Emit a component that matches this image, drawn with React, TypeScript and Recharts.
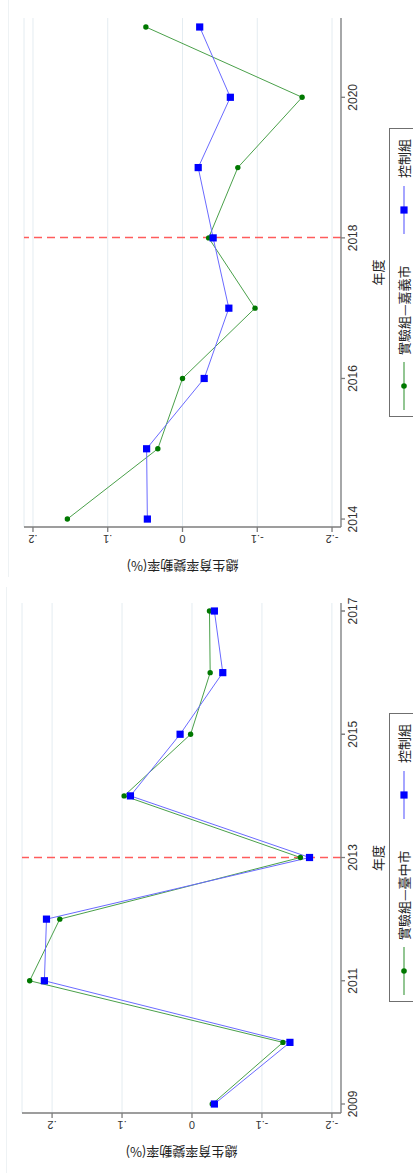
import React from "react";
import { CartesianGrid, Legend, Line, LineChart, ReferenceLine, XAxis, YAxis } from "recharts";

// 兩張 Stata 風格的折線圖（左：臺中市，右：嘉義市），整體逆時針轉 90 度
const taichungYears = [2009, 2010, 2011, 2012, 2013, 2014, 2015, 2016, 2017];
const taichungTreat = [-0.029, -0.13, 0.232, 0.189, -0.155, 0.097, 0.002, -0.026, -0.025];
const taichungControl = [-0.032, -0.14, 0.211, 0.208, -0.168, 0.088, 0.017, -0.044, -0.032];
const taichungXTicks = [2009, 2011, 2013, 2015, 2017];

const chiayiYears = [2014, 2015, 2016, 2017, 2018, 2019, 2020, 2021];
const chiayiTreat = [0.154, 0.033, 0.0, -0.097, -0.035, -0.074, -0.16, 0.049];
const chiayiControl = [0.047, 0.048, -0.029, -0.062, -0.041, -0.021, -0.064, -0.023];
const chiayiXTicks = [2014, 2016, 2018, 2020];

const yTicks = [-0.2, -0.1, 0, 0.1, 0.2];
const yTickLabels = ["-.2", "-.1", "0", ".1", ".2"];

const LATIN = "'Liberation Sans', Arial, sans-serif";
const CJK = "'Noto Sans CJK TC', 'Noto Sans CJK SC', sans-serif";
const GREEN_LINE = "#4aa04a";
const GREEN_DOT = "#007800";
const BLUE_LINE = "#6a6aff";
const BLUE_DOT = "#0000ff";
const POLICY_RED = "#ff5c5c";

interface PanelProps {
  years: number[];
  treat: number[];
  control: number[];
  treatName: string;
  xTicks: number[];
  xDomain: [number, number];
  yDomain: [number, number];
  policyYear: number;
  width: number;
  top: number;
  right: number;
  yAxisWidth: number;
  legendLeft: number;
}

const YTick = (p: any) => {
  const i = yTicks.indexOf(p.payload.value);
  return (
    <text
      transform={`translate(${p.x},${p.y}) rotate(-90)`}
      textAnchor="middle"
      fontSize={11}
      fill="#333"
      fontFamily={LATIN}
    >
      {i >= 0 ? yTickLabels[i] : p.payload.value}
    </text>
  );
};

const Dot = (p: any) =>
  p.cx == null ? <g key={p.index} /> : <circle key={p.index} cx={p.cx} cy={p.cy} r={2.7} fill={GREEN_DOT} />;

const Square = (p: any) =>
  p.cx == null ? (
    <g key={p.index} />
  ) : (
    <rect key={p.index} x={p.cx - 3.6} y={p.cy - 3.6} width={7.2} height={7.2} fill={BLUE_DOT} />
  );

// 政策年虛線：對齊像素，避免反鋸齒變灰
const PolicyLine = (p: any) => {
  const x = Math.round(p.x1) + 0.5;
  return (
    <line
      x1={x}
      y1={p.y1}
      x2={x}
      y2={p.y2}
      stroke={POLICY_RED}
      strokeWidth={1.5}
      strokeDasharray="8 5"
      fill="none"
    />
  );
};

function LegendBox({ treatName }: { treatName: string }) {
  const txt: React.CSSProperties = {
    position: "absolute",
    top: 6,
    fontSize: 13,
    lineHeight: "16px",
    fontFamily: CJK,
    color: "#222",
    whiteSpace: "nowrap",
  };
  return (
    <div style={{ position: "relative", width: 289, height: 28, border: "1px solid #6f6f6f", boxSizing: "border-box", background: "#fff" }}>
      <svg style={{ position: "absolute", left: 6, top: 0 }} width={48} height={28}>
        <line x1={0} y1={14} x2={48} y2={14} stroke={GREEN_LINE} strokeWidth={1.2} />
        <circle cx={24} cy={14} r={2.8} fill={GREEN_DOT} />
      </svg>
      <span style={{ ...txt, left: 61 }}>{treatName}</span>
      <svg style={{ position: "absolute", left: 182, top: 0 }} width={48} height={28}>
        <line x1={0} y1={14} x2={48} y2={14} stroke={BLUE_LINE} strokeWidth={1.2} />
        <rect x={20.4} y={10.4} width={7.2} height={7.2} fill={BLUE_DOT} />
      </svg>
      <span style={{ ...txt, left: 238 }}>控制組</span>
    </div>
  );
}

function Panel(props: PanelProps) {
  const data = props.years.map((y, i) => ({ year: y, treat: props.treat[i], control: props.control[i] }));
  const plotLeft = props.yAxisWidth;
  return (
    <LineChart
      width={props.width}
      height={413}
      data={data}
      margin={{ top: props.top, right: props.right, left: 0, bottom: 42 }}
    >
      <CartesianGrid vertical={false} stroke="#e4ecf1" strokeWidth={1} />
      <XAxis
        dataKey="year"
        type="number"
        domain={props.xDomain}
        allowDataOverflow
        ticks={props.xTicks}
        height={30}
        tickSize={4}
        tickMargin={3}
        stroke="#7d7d7d"
        strokeWidth={1.3}
        tick={{ fontSize: 12, fill: "#333", fontFamily: LATIN }}
        label={{
          content: ({ viewBox }: any) => (
            <text
              x={viewBox.x + viewBox.width / 2}
              y={viewBox.y + 42}
              textAnchor="middle"
              fontSize={13}
              fill="#222"
              fontFamily={CJK}
            >
              年度
            </text>
          ),
        }}
      />
      <YAxis
        type="number"
        domain={props.yDomain}
        allowDataOverflow
        ticks={yTicks}
        width={props.yAxisWidth}
        tickSize={5}
        tickMargin={3}
        stroke="#7d7d7d"
        strokeWidth={1.3}
        tick={YTick}
        label={{
          content: ({ viewBox }: any) => (
            <text
              transform={`translate(${plotLeft - 34},${viewBox.y + viewBox.height / 2}) rotate(-90)`}
              textAnchor="middle"
              fontSize={13}
              fill="#222"
              fontFamily={CJK}
            >
              總生育率變動率(%)
            </text>
          ),
        }}
      />
      <ReferenceLine x={props.policyYear} stroke={POLICY_RED} shape={PolicyLine} />
      <Line
        dataKey="treat"
        name={props.treatName}
        stroke={GREEN_LINE}
        strokeWidth={1}
        dot={Dot}
        activeDot={false}
        isAnimationActive={false}
      />
      <Line
        dataKey="control"
        name="控制組"
        stroke={BLUE_LINE}
        strokeWidth={1}
        dot={Square}
        activeDot={false}
        isAnimationActive={false}
      />
      <Legend
        layout="horizontal"
        verticalAlign="middle"
        align="center"
        wrapperStyle={{ top: 389, left: props.legendLeft, width: 289, height: 28 }}
        content={() => <LegendBox treatName={props.treatName} />}
      />
    </LineChart>
  );
}

export default function App() {
  return (
    <div
      style={{
        position: "absolute",
        left: 0,
        top: 0,
        width: 1173,
        height: 413,
        background: "#fff",
        transformOrigin: "0 0",
        transform: "translateY(1173px) rotate(-90deg)",
      }}
    >
      <div style={{ position: "absolute", left: 0, top: 0, width: 587, height: 413 }}>
        <div style={{ position: "absolute", left: 0, top: 6, width: 586, borderTop: "1px solid #eef2f4" }} />
        <Panel
          years={taichungYears}
          treat={taichungTreat}
          control={taichungControl}
          treatName="實驗組—臺中市"
          xTicks={taichungXTicks}
          xDomain={[2008.854, 2017.13]}
          yDomain={[-0.213, 0.243]}
          policyYear={2013}
          width={590}
          top={22}
          right={20}
          yAxisWidth={60}
          legendLeft={171}
        />
      </div>
      <div style={{ position: "absolute", left: 590, top: 0, width: 583, height: 413 }}>
        <div style={{ position: "absolute", left: 6, top: 8, width: 577, borderTop: "1px solid #eef2f4" }} />
        <Panel
          years={chiayiYears}
          treat={chiayiTreat}
          control={chiayiControl}
          treatName="實驗組—嘉義市"
          xTicks={chiayiXTicks}
          xDomain={[2013.887, 2021.128]}
          yDomain={[-0.212, 0.212]}
          policyYear={2018}
          width={583}
          top={24}
          right={18}
          yAxisWidth={56}
          legendLeft={166}
        />
      </div>
    </div>
  );
}
